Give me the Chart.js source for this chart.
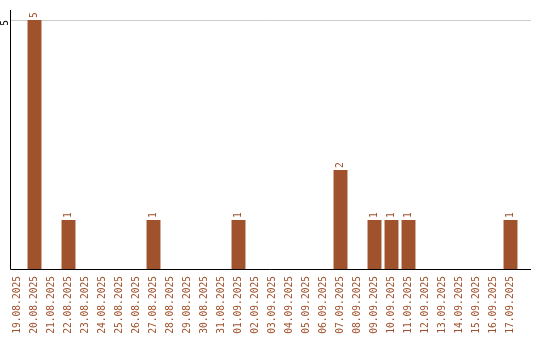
<!DOCTYPE html>
<html>
<head>
<meta charset="utf-8">
<script src="https://cdn.jsdelivr.net/npm/chart.js@4"></script>
<style>
  html, body { margin: 0; padding: 0; background: #ffffff; }
  #wrap { width: 540px; height: 340px; }
</style>
</head>
<body>
<div id="wrap"><canvas id="c" width="540" height="340"></canvas></div>
<script>
// Daily counts per date
const dates = [
  '19.08.2025', '20.08.2025', '21.08.2025', '22.08.2025', '23.08.2025',
  '24.08.2025', '25.08.2025', '26.08.2025', '27.08.2025', '28.08.2025',
  '29.08.2025', '30.08.2025', '31.08.2025', '01.09.2025', '02.09.2025',
  '03.09.2025', '04.09.2025', '05.09.2025', '06.09.2025', '07.09.2025',
  '08.09.2025', '09.09.2025', '10.09.2025', '11.09.2025', '12.09.2025',
  '13.09.2025', '14.09.2025', '15.09.2025', '16.09.2025', '17.09.2025'
];
const counts = [
  0, 5, 0, 1, 0,
  0, 0, 0, 1, 0,
  0, 0, 0, 1, 0,
  0, 0, 0, 0, 2,
  0, 1, 1, 1, 0,
  0, 0, 0, 0, 1
];
const yTicks = [5];

const BROWN = '#a0522d';
const MONO_FAMILY = '"DejaVu Sans Mono", "Liberation Mono", monospace';
const MONO = '9.6px ' + MONO_FAMILY;

// Axis lines, the horizontal grid line, the rotated y tick and the value labels
const decorations = {
  id: 'decorations',
  beforeDatasetsDraw(chart) {
    const ctx = chart.ctx;
    const y = chart.scales.y;
    ctx.save();
    ctx.strokeStyle = '#cccccc';
    ctx.lineWidth = 1;
    yTicks.forEach(v => {
      const py = Math.round(y.getPixelForValue(v)) + 0.5;
      ctx.beginPath();
      ctx.moveTo(10, py);
      ctx.lineTo(531, py);
      ctx.stroke();
    });
    ctx.restore();
  },
  afterDatasetsDraw(chart) {
    const ctx = chart.ctx;
    const y = chart.scales.y;
    const base = Math.round(y.getPixelForValue(0));
    ctx.save();
    // axes
    ctx.strokeStyle = '#000000';
    ctx.lineWidth = 1;
    ctx.beginPath();
    ctx.moveTo(10.5, 10);
    ctx.lineTo(10.5, base - 0.5);
    ctx.lineTo(531, base - 0.5);
    ctx.stroke();

    // y tick labels, rotated
    ctx.font = MONO;
    ctx.fillStyle = '#000000';
    yTicks.forEach(v => {
      const py = y.getPixelForValue(v);
      ctx.save();
      ctx.translate(5.5, py);
      ctx.rotate(-Math.PI / 2);
      ctx.textAlign = 'right';
      ctx.textBaseline = 'middle';
      ctx.fillText(String(v), 0, 0);
      ctx.restore();
    });

    // value labels above bars
    ctx.fillStyle = BROWN;
    const meta = chart.getDatasetMeta(0);
    meta.data.forEach((bar, i) => {
      const v = counts[i];
      if (!v) return;
      ctx.save();
      ctx.translate(bar.x, bar.y - 2);
      ctx.rotate(-Math.PI / 2);
      ctx.textAlign = 'left';
      ctx.textBaseline = 'middle';
      ctx.fillText(String(v), 0, 0);
      ctx.restore();
    });
    ctx.restore();
  }
};

new Chart(document.getElementById('c'), {
  type: 'bar',
  data: {
    labels: dates,
    datasets: [{
      data: counts,
      backgroundColor: BROWN,
      borderWidth: 0,
      categoryPercentage: 1.0,
      barPercentage: 0.82
    }]
  },
  options: {
    responsive: false,
    animation: false,
    devicePixelRatio: 1,
    layout: { padding: { left: 9, right: 21, top: 20, bottom: 0 } },
    plugins: {
      legend: { display: false },
      tooltip: { enabled: false }
    },
    scales: {
      x: {
        grid: { display: false, drawTicks: false },
        border: { display: false },
        afterFit(scale) { scale.height = 70; },
        ticks: {
          autoSkip: false,
          minRotation: 90,
          maxRotation: 90,
          padding: 6,
          color: BROWN,
          font: { family: MONO_FAMILY, size: 9.6 }
        }
      },
      y: {
        display: false,
        min: 0,
        max: 5
      }
    }
  },
  plugins: [decorations]
});
</script>
</body>
</html>
